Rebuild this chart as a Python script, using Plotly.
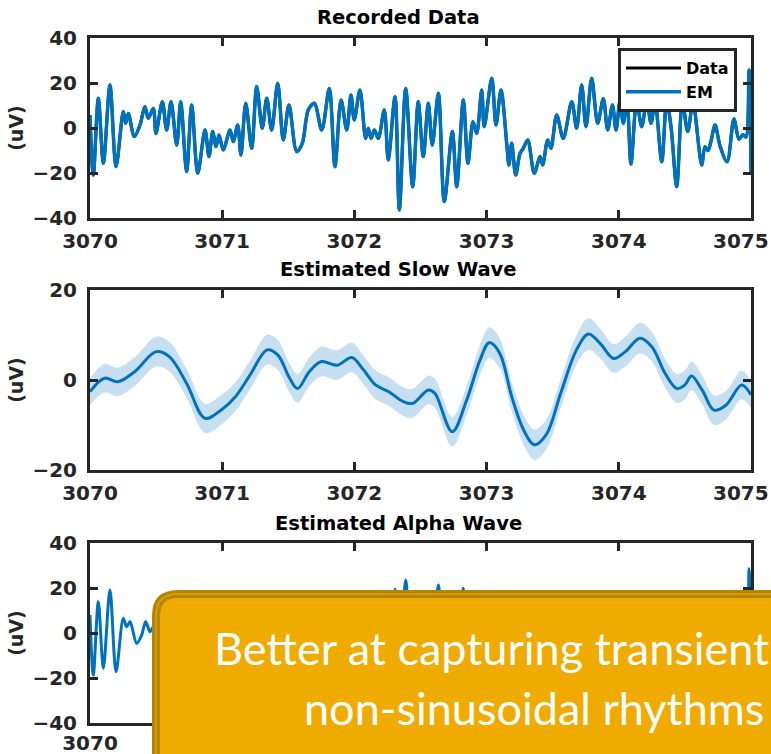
import plotly.graph_objects as go

# ---------------- data ----------------
rec_t = [3070.000, 3070.025, 3070.063, 3070.101, 3070.151, 3070.197, 3070.252, 3070.270, 3070.290, 3070.335,
         3070.378, 3070.416, 3070.441, 3070.479, 3070.499, 3070.547, 3070.580, 3070.613, 3070.656, 3070.686,
         3070.731, 3070.769, 3070.815, 3070.870, 3070.900, 3070.928, 3070.953, 3070.976, 3071.008, 3071.059,
         3071.084, 3071.117, 3071.142, 3071.178, 3071.223, 3071.261, 3071.303, 3071.337, 3071.374, 3071.420,
         3071.462, 3071.505, 3071.564, 3071.606, 3071.651, 3071.697, 3071.753, 3071.810, 3071.853, 3071.899,
         3071.942, 3071.974, 3071.999, 3072.042, 3072.085, 3072.105, 3072.126, 3072.151, 3072.181, 3072.226,
         3072.256, 3072.307, 3072.340, 3072.388, 3072.441, 3072.483, 3072.521, 3072.559, 3072.589, 3072.635,
         3072.680, 3072.741, 3072.774, 3072.824, 3072.859, 3072.897, 3072.925, 3072.963, 3072.982, 3073.039,
         3073.071, 3073.109, 3073.152, 3073.169, 3073.190, 3073.220, 3073.253, 3073.278, 3073.311, 3073.361,
         3073.404, 3073.424, 3073.462, 3073.487, 3073.530, 3073.580, 3073.644, 3073.681, 3073.719, 3073.752,
         3073.795, 3073.840, 3073.883, 3073.916, 3073.952, 3073.979, 3074.009, 3074.034, 3074.062, 3074.092,
         3074.135, 3074.173, 3074.211, 3074.244, 3074.274, 3074.325, 3074.362, 3074.395, 3074.438, 3074.481,
         3074.521, 3074.561, 3074.627, 3074.652, 3074.675, 3074.697, 3074.728, 3074.766, 3074.819, 3074.871,
         3074.909, 3074.939, 3074.962, 3074.985, 3075.000]
rec_v = [5.8, -20.9, 13.2, -15.7, 19.1, -17.2, 7.3, 2.1, 6.5, -3.8,
         1.3, 9.5, 4.3, 8.7, -2.4, 11.7, -0.9, 11.7, -7.6, 11.7,
         -19.4, 10.2, -20.1, -0.9, -12.7, -1.6, -8.3, -3.1, -9.8, -0.9,
         -6.1, 1.3, -12.0, 11.0, -9.0, 18.4, -0.1, 13.2, -0.9, 19.9,
         -5.3, 10.2, -10.5, -6.8, 8.0, 11.0, -0.9, 17.6, -17.2, 12.4,
         -0.9, 14.7, 3.6, 16.9, -4.6, -0.1, -4.6, -0.9, -4.6, 8.0,
         -14.2, 13.9, -36.4, 17.6, -26.1, 11.7, -12.7, 11.0, -7.6, 15.4,
         -32.7, -1.6, -26.1, 12.4, -15.7, 2.8, -2.4, 16.9, 0.6, 22.1,
         1.3, 16.9, -6.8, -16.4, -6.8, -20.9, -11.3, -9.0, -5.3, -20.1,
         -12.7, -16.4, -5.3, -9.0, 5.8, -4.6, 11.7, -0.1, 19.1, 0.6,
         22.1, 2.1, 13.0, -0.9, 10.2, -0.9, 12.0, 2.1, 12.0, -16.0,
         11.7, 0.6, 11.7, 2.1, 12.0, -15.0, 11.7, 0.6, -26.1, 11.7,
         -1.6, 11.0, -16.4, -8.3, -10.0, -6.0, 1.3, -8.0, -15.0, 4.0,
         -5.0, -3.0, -4.0, 25.8, -20.0]
em_v = rec_v  # EM fit overlays the data almost exactly

slow_t = [3070.00, 3070.11, 3070.21, 3070.34, 3070.50, 3070.60, 3070.73, 3070.87, 3070.99, 3071.10,
          3071.21, 3071.34, 3071.42, 3071.51, 3071.57, 3071.66, 3071.75, 3071.87, 3071.98, 3072.07,
          3072.16, 3072.26, 3072.37, 3072.44, 3072.56, 3072.61, 3072.74, 3072.85, 3072.95, 3073.02,
          3073.10, 3073.19, 3073.28, 3073.36, 3073.45, 3073.56, 3073.68, 3073.77, 3073.86, 3073.96,
          3074.05, 3074.16, 3074.25, 3074.35, 3074.44, 3074.50, 3074.55, 3074.63, 3074.72, 3074.81,
          3074.93, 3075.00]
slow_v = [-2.6, 0.4, -0.4, 1.9, 6.3, 5.2, -0.7, -8.5, -6.7, -3.7,
          1.1, 6.7, 5.6, 0.4, -1.9, 1.9, 4.1, 3.3, 5.0, 2.2,
          -1.1, -2.6, -4.8, -5.2, -2.2, -3.0, -11.5, -4.4, 4.4, 8.3,
          5.9, -3.7, -11.1, -14.4, -12.2, -3.0, 6.7, 10.2, 8.1, 4.8,
          6.3, 9.3, 7.4, 1.5, -1.9, -1.1, 0.9, -2.2, -6.7, -5.6,
          -1.1, -3.3]
slow_ci = [3.0, 3.2, 3.2, 3.2, 3.3, 3.3, 3.2, 3.3, 3.3, 3.2,
           3.2, 3.3, 3.3, 3.2, 3.2, 3.2, 3.3, 3.3, 3.3, 3.2,
           3.2, 3.2, 3.2, 3.2, 3.2, 3.2, 3.3, 3.2, 3.3, 3.4,
           3.3, 3.2, 3.3, 3.4, 3.3, 3.2, 3.3, 3.5, 3.3, 3.2,
           3.3, 3.4, 3.3, 3.2, 3.2, 3.2, 3.2, 3.2, 3.3, 3.2,
           3.2, 3.0]

alpha_t = [3070.000, 3070.025, 3070.063, 3070.101, 3070.151, 3070.197, 3070.252, 3070.277, 3070.303, 3070.353,
           3070.391, 3070.421, 3070.454, 3070.479, 3070.499, 3070.547, 3070.580, 3070.613, 3070.656, 3070.686,
           3070.731, 3070.769, 3070.815, 3070.870, 3070.900, 3070.928, 3070.953, 3070.976, 3071.008, 3071.059,
           3071.084, 3071.117, 3071.142, 3071.178, 3071.223, 3071.261, 3071.303, 3071.337, 3071.374, 3071.420,
           3071.462, 3071.505, 3071.564, 3071.606, 3071.651, 3071.697, 3071.753, 3071.810, 3071.853, 3071.899,
           3071.942, 3071.974, 3071.999, 3072.042, 3072.085, 3072.105, 3072.126, 3072.151, 3072.181, 3072.226,
           3072.256, 3072.307, 3072.340, 3072.388, 3072.441, 3072.483, 3072.521, 3072.559, 3072.589, 3072.635,
           3072.680, 3072.741, 3072.774, 3072.824, 3072.859, 3072.897, 3072.925, 3072.963, 3072.982, 3073.039,
           3073.071, 3073.109, 3073.152, 3073.169, 3073.190, 3073.220, 3073.253, 3073.278, 3073.311, 3073.361,
           3073.404, 3073.424, 3073.462, 3073.487, 3073.530, 3073.580, 3073.644, 3073.681, 3073.719, 3073.752,
           3073.795, 3073.840, 3073.883, 3073.916, 3073.952, 3073.979, 3074.009, 3074.034, 3074.062, 3074.092,
           3074.135, 3074.173, 3074.211, 3074.244, 3074.274, 3074.325, 3074.362, 3074.395, 3074.438, 3074.481,
           3074.521, 3074.561, 3074.627, 3074.652, 3074.675, 3074.697, 3074.728, 3074.766, 3074.819, 3074.871,
           3074.909, 3074.939, 3074.962, 3074.985, 3075.000]
alpha_v = [8.0, -18.7, 13.9, -15.7, 19.1, -17.2, 6.5, 2.8, 5.0, -4.6,
           -0.9, 5.0, 0.6, 2.7, -8.7, 5.9, -6.3, 6.7, -11.1, 10.2,
           -18.7, 13.2, -14.6, 7.6, -4.5, 6.2, -1.0, 3.8, -3.3, 4.1,
           -1.9, 4.5, -10.0, 11.0, -10.8, 14.5, -5.9, 6.5, -7.3, 14.3,
           -8.5, 9.5, -8.7, -6.5, 6.5, 8.2, -5.0, 13.9, -20.6, 8.6,
           -5.4, 9.8, -0.9, 13.9, -6.1, -0.7, -4.4, 0.1, -3.2, 10.1,
           -11.7, 19.5, -32.2, 23.5, -20.9, 15.7, -9.9, 13.2, -5.0, 21.3,
           -24.7, 9.9, -16.1, 19.9, -11.9, 2.1, -5.2, 11.4, -6.2, 14.1,
           -5.7, 11.6, -7.3, -14.9, -3.1, -14.7, -2.3, 2.0, 7.1, -5.7,
           0.9, -3.4, 6.2, 0.4, 11.2, -3.3, 7.5, -7.1, 10.6, -9.1,
           12.3, -6.5, 5.7, -6.9, 5.3, -6.0, 6.4, -3.9, 5.4, -23.6,
           2.9, -8.5, 3.5, -5.4, 6.0, -18.0, 10.7, 1.2, -24.3, 13.1,
           -1.3, 10.2, -14.4, -4.8, -5.2, -0.2, 8.0, -1.7, -9.5, 7.4,
           -3.5, -1.9, -2.2, 28.6, -16.7]
ALPHA_CI = 2.0

x_ticks = [3070, 3071, 3072, 3073, 3074, 3075]
titles = ["Recorded Data", "Estimated Slow Wave", "Estimated Alpha Wave"]
y_label = "(uV)"
callout_lines = ["Better at capturing transient", "non-sinusoidal rhythms"]

# ---------------- styling ----------------
W, H = 771, 754
BLUE = "#0072BD"
BAND = "rgba(0,114,189,0.22)"
AX = "#262626"
FONT = "DejaVu Sans"
TICK_SIZE = 20

def fx(px):
    return px / W

def fy(py):
    return 1 - py / H

x_dom = [fx(90), fx(751)]
panels = [(38, 218), (290, 470), (543, 723)]

fig = go.Figure()

# top panel
fig.add_trace(go.Scatter(x=rec_t, y=rec_v, mode="lines", name="Data",
                         line=dict(color="black", width=3, shape="spline", smoothing=0.9),
                         xaxis="x", yaxis="y"))
fig.add_trace(go.Scatter(x=rec_t, y=em_v, mode="lines", name="EM",
                         line=dict(color=BLUE, width=3.5, shape="spline", smoothing=0.9),
                         xaxis="x", yaxis="y"))

# middle panel band + line
slow_up = [v + c for v, c in zip(slow_v, slow_ci)]
slow_lo = [v - c for v, c in zip(slow_v, slow_ci)]
fig.add_trace(go.Scatter(x=slow_t, y=slow_up, mode="lines", line=dict(width=0, shape="spline"),
                         showlegend=False, hoverinfo="skip", xaxis="x2", yaxis="y2"))
fig.add_trace(go.Scatter(x=slow_t, y=slow_lo, mode="lines", line=dict(width=0, shape="spline"),
                         fill="tonexty", fillcolor=BAND, showlegend=False, hoverinfo="skip",
                         xaxis="x2", yaxis="y2"))
fig.add_trace(go.Scatter(x=slow_t, y=slow_v, mode="lines", line=dict(color=BLUE, width=3, shape="spline"),
                         showlegend=False, xaxis="x2", yaxis="y2"))

# bottom panel band + line
a_up = [v + ALPHA_CI for v in alpha_v]
a_lo = [v - ALPHA_CI for v in alpha_v]
fig.add_trace(go.Scatter(x=alpha_t, y=a_up, mode="lines", line=dict(width=0, shape="spline", smoothing=0.9),
                         showlegend=False, hoverinfo="skip", xaxis="x3", yaxis="y3"))
fig.add_trace(go.Scatter(x=alpha_t, y=a_lo, mode="lines", line=dict(width=0, shape="spline", smoothing=0.9),
                         fill="tonexty", fillcolor="rgba(0,114,189,0.12)", showlegend=False,
                         hoverinfo="skip", xaxis="x3", yaxis="y3"))
fig.add_trace(go.Scatter(x=alpha_t, y=alpha_v, mode="lines",
                         line=dict(color=BLUE, width=3, shape="spline", smoothing=0.9),
                         showlegend=False, xaxis="x3", yaxis="y3"))

tickfont = dict(family=FONT, size=TICK_SIZE, color=AX, weight="bold")
# the last label sits flush with the page edge (as in the reference), so it is placed separately
x_labels = [str(v) for v in x_ticks[:-1]] + [""]

def xaxis(anchor, labels, standoff=3):
    return dict(domain=x_dom, anchor=anchor, range=[3070, 3075], tickvals=x_ticks,
                ticktext=labels, showline=True, linecolor=AX,
                linewidth=3, mirror="ticks", ticks="inside", ticklen=8, tickwidth=3, tickcolor=AX,
                showgrid=False, zeroline=False, tickfont=tickfont, automargin=False,
                ticklabeloverflow="allow", ticklabelstandoff=standoff)

def yaxis(anchor, dom, rng, tv):
    return dict(domain=dom, anchor=anchor, range=rng, tickvals=tv, showline=True, linecolor=AX,
                linewidth=3, mirror="ticks", ticks="inside", ticklen=8, tickwidth=3, tickcolor=AX,
                showgrid=False, zeroline=False, tickfont=tickfont, automargin=False,
                ticklabelstandoff=6,
                title=dict(text="<b>" + y_label + "</b>", font=dict(family=FONT, size=19, color=AX),
                           standoff=4))

doms = [[fy(b), fy(t)] for t, b in panels]
bottom_labels = [str(x_ticks[0])] + [""] * (len(x_ticks) - 1)  # the rest lie under the callout
layout = dict(
    width=W, height=H, margin=dict(l=0, r=0, t=0, b=0, autoexpand=False),
    paper_bgcolor="white", plot_bgcolor="white",
    xaxis=xaxis("y", x_labels), yaxis=yaxis("x", doms[0], [-40, 40], [-40, -20, 0, 20, 40]),
    xaxis2=xaxis("y2", x_labels), yaxis2=yaxis("x2", doms[1], [-20, 20], [-20, 0, 20]),
    xaxis3=xaxis("y3", bottom_labels, 0), yaxis3=yaxis("x3", doms[2], [-40, 40], [-40, -20, 0, 20, 40]),
    legend=dict(x=fx(737), y=fy(48), xanchor="right", yanchor="top", bgcolor="white",
                bordercolor=AX, borderwidth=3, traceorder="normal", itemwidth=55,
                font=dict(family=FONT, size=16, color="black", weight="bold"),
                tracegroupgap=0),
    showlegend=True,
)
fig.update_layout(**layout)

# last x tick label of the top two panels, right-aligned to the page edge
for (t, b) in panels[:2]:
    fig.add_annotation(text=str(x_ticks[-1]), x=fx(770), y=fy(b + 23), xref="paper", yref="paper",
                       showarrow=False, font=tickfont, xanchor="right", yanchor="middle",
                       borderpad=0)

# panel titles
for txt, (t, b) in zip(titles, panels):
    fig.add_annotation(text="<b>" + txt + "</b>", x=fx(398), y=fy(t - 20), xref="paper", yref="paper",
                       showarrow=False, font=dict(family=FONT, size=19.5, color="black"),
                       xanchor="center", yanchor="middle")

# callout box (rounded rectangle with double border)
def rrect(l, t, r, b, rad):
    L, T, R, B = fx(l), fy(t), fx(r), fy(b)
    rx, ry = rad / W, rad / H
    return (f"M {L+rx},{T} L {R-rx},{T} Q {R},{T} {R},{T-ry} L {R},{B+ry} Q {R},{B} {R-rx},{B} "
            f"L {L+rx},{B} Q {L},{B} {L},{B+ry} L {L},{T-ry} Q {L},{T} {L+rx},{T} Z")

BL, BT, BR, BB = 152, 590, 830, 820
fig.add_shape(type="path", path=rrect(BL, BT, BR, BB, 26), xref="paper", yref="paper",
              fillcolor="#B48600", line=dict(width=0), layer="above")
fig.add_shape(type="path", path=rrect(BL + 4, BT + 4, BR - 4, BB - 4, 22), xref="paper", yref="paper",
              fillcolor="rgba(0,0,0,0)", line=dict(width=1.5, color="#E2A300"), layer="above")
fig.add_shape(type="path", path=rrect(BL + 8, BT + 8, BR - 8, BB - 8, 18), xref="paper", yref="paper",
              fillcolor="#F0AB00", line=dict(width=0), layer="above")

for txt, xl, yc in zip(callout_lines, [212, 302], [648, 708]):
    fig.add_annotation(text=txt, x=fx(xl), y=fy(yc), xref="paper", yref="paper", showarrow=False,
                       font=dict(family="Lato", size=45, color="white"), xanchor="left", yanchor="middle")

fig.write_html("out.html")
